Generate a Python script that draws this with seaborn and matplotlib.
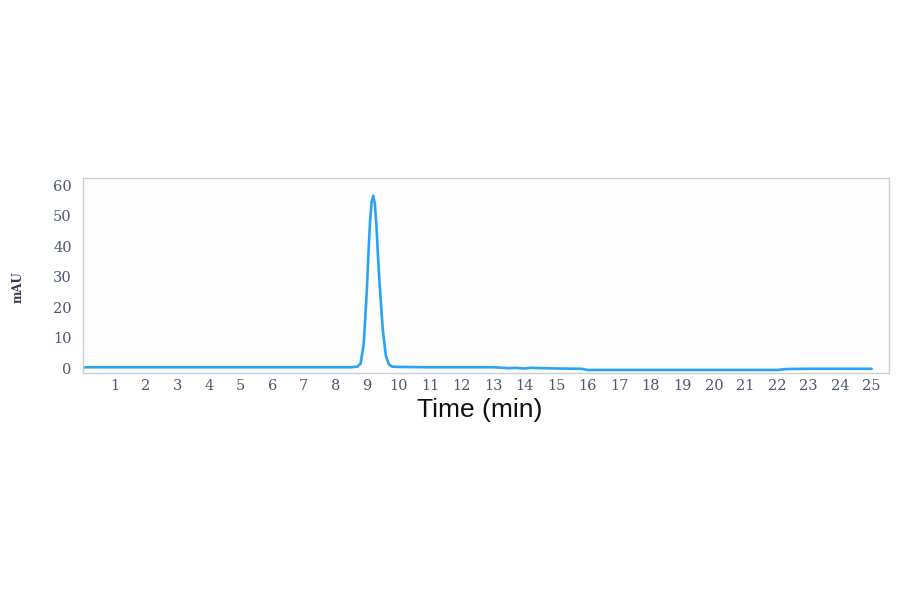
import numpy as np
import pandas as pd
import matplotlib.pyplot as plt
import seaborn as sns

# chromatogram points
time_min = [0.0, 2.0, 5.0, 8.0, 8.5, 8.7, 8.8, 8.9, 9.0, 9.05, 9.1, 9.15, 9.2,
            9.25, 9.3, 9.35, 9.4, 9.5, 9.6, 9.7, 9.8, 10.0, 11.0, 12.0, 13.0,
            13.5, 13.7, 14.0, 14.2, 15.0, 15.8, 16.0, 18.0, 20.0, 22.0, 22.3,
            23.0, 24.0, 25.0]
mau = [0.3, 0.3, 0.3, 0.3, 0.3, 0.5, 1.5, 8.0, 26.0, 38.0, 48.0, 54.5, 56.5,
       54.0, 47.0, 37.0, 28.0, 13.0, 4.0, 1.2, 0.5, 0.4, 0.3, 0.3, 0.3,
       0.0, 0.1, -0.1, 0.1, -0.1, -0.2, -0.6, -0.6, -0.6, -0.6, -0.3,
       -0.2, -0.2, -0.2]
x_ticks = list(range(1, 26))
y_ticks = [0, 10, 20, 30, 40, 50, 60]

df = pd.DataFrame({'Time': time_min, 'mAU': mau})

sns.set_style('white')
tick_color = '#4b5670'
frame_color = '#c9cdd5'

fig = plt.figure(figsize=(9, 5.94), dpi=100)
fig.set_facecolor('white')
ax = fig.add_axes([0.0922, 0.372, 0.8956, 0.3283])
ax.patch.set_facecolor('#fdfdfe')

sns.lineplot(data=df, x='Time', y='mAU', color='#2aa3f5', lw=1.9, ax=ax)

ax.set_xlim(0, 25.55)
ax.set_ylim(-1.6, 62.3)
ax.set_xticks(x_ticks)
ax.set_yticks(y_ticks)
for s in ax.spines.values():
    s.set_color(frame_color)
    s.set_linewidth(1.0)
ax.tick_params(axis='both', colors=frame_color, length=3, width=1,
               labelcolor=tick_color, labelsize=10.5)
ax.tick_params(axis='x', pad=1.5)
ax.tick_params(axis='y', pad=5)
for lab in ax.get_xticklabels() + ax.get_yticklabels():
    lab.set_family('DejaVu Serif')

ax.set_xlabel('Time (min)', fontsize=19, color='#111111', family='Liberation Sans',
              va='center')
ax.xaxis.set_label_coords(0.492, -0.19)
ax.set_ylabel('mAU', fontsize=8.5, color='#333a4a', family='DejaVu Serif', fontweight='bold')
ax.yaxis.set_label_coords(-0.072, 0.44)

plt.savefig('out.png', dpi=100)
